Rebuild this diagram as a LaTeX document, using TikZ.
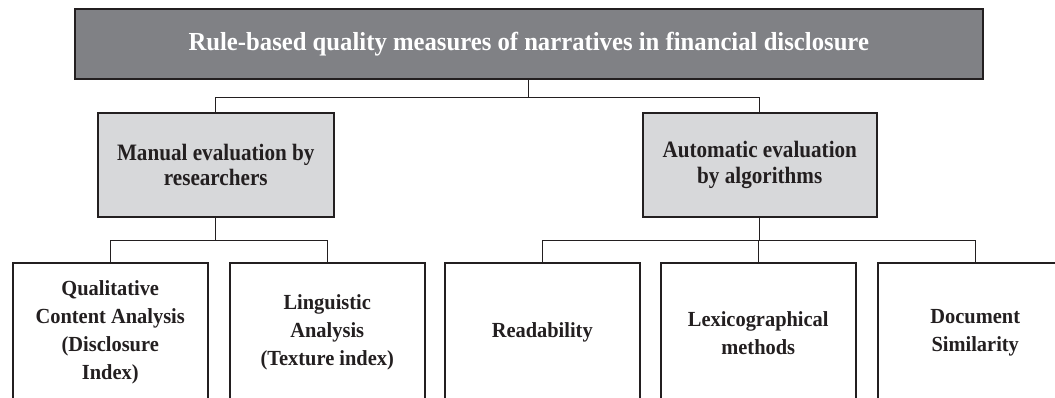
\documentclass[tikz,border=0pt]{standalone}
\usepackage{fontspec}
\setmainfont{Liberation Serif}[FakeStretch=0.9]
\newfontfamily\titlefont{Liberation Serif}[FakeStretch=0.95]
\newfontfamily\leaffont{Liberation Serif}[FakeStretch=0.95]
\usetikzlibrary{positioning}
\definecolor{inkc}{HTML}{231F20}
\definecolor{topfill}{HTML}{808185}
\definecolor{midfill}{HTML}{D7D8DA}
\tikzset{
  boxbase/.style={draw=inkc, line width=1.5pt, inner sep=0pt, align=center, anchor=north west},
  topbox/.style={boxbase, fill=topfill, text=white, minimum width=908pt, minimum height=70pt,
     font=\titlefont\fontsize{26}{30}\selectfont\bfseries},
  midbox/.style={boxbase, fill=midfill, text=inkc, minimum width=236pt, minimum height=104pt,
     font=\fontsize{23.5}{25.5}\selectfont\bfseries},
  leafbox/.style={boxbase, fill=white, text=inkc, minimum width=195pt, minimum height=140pt,
     font=\leaffont\fontsize{21.5}{28}\selectfont\bfseries},
  conn/.style={draw=inkc, line width=1pt}
}
\begin{document}
\begin{tikzpicture}[x=1pt, y=-1pt]
\useasboundingbox (0,0) rectangle (1055,397);
\clip (0,0) rectangle (1055,397);
\fill[white] (0,0) rectangle (1055,397);
\node[topbox] (top) at (74,8) {Rule-based quality measures of narratives in financial disclosure};
\node[midbox] (m1) at (97,112) {Manual evaluation by\\researchers};
\node[midbox, minimum width=234pt] (m2) at (642,112) {Automatic evaluation\\by algorithms};
\node[leafbox] (b1) at (12,262) {Qualitative\\Content Analysis\\(Disclosure\\Index)};
\node[leafbox] (b2) at (229,262) {Linguistic\\Analysis\\(Texture index)};
\node[leafbox] (b3) at (444,262) {Readability};
\node[leafbox] (b4) at (660,262) {Lexicographical\\methods};
\node[leafbox] (b5) at (877,262) {Document\\Similarity};
\draw[conn] (top.south) -- ++(0,18) coordinate (bus0);
\draw[conn] (bus0) -| (m1.north);
\draw[conn] (bus0) -| (m2.north);
\draw[conn] (m1.south) -- ++(0,23) coordinate (bus1);
\draw[conn] (bus1) -| (b1.north);
\draw[conn] (bus1) -| (b2.north);
\draw[conn] (m2.south) -- ++(0,23) coordinate (bus2);
\draw[conn] (bus2) -| (b3.north);
\draw[conn] (bus2) -| (b5.north);
\draw[conn] (bus2 -| b4.north) -- (b4.north);
\end{tikzpicture}
\end{document}
